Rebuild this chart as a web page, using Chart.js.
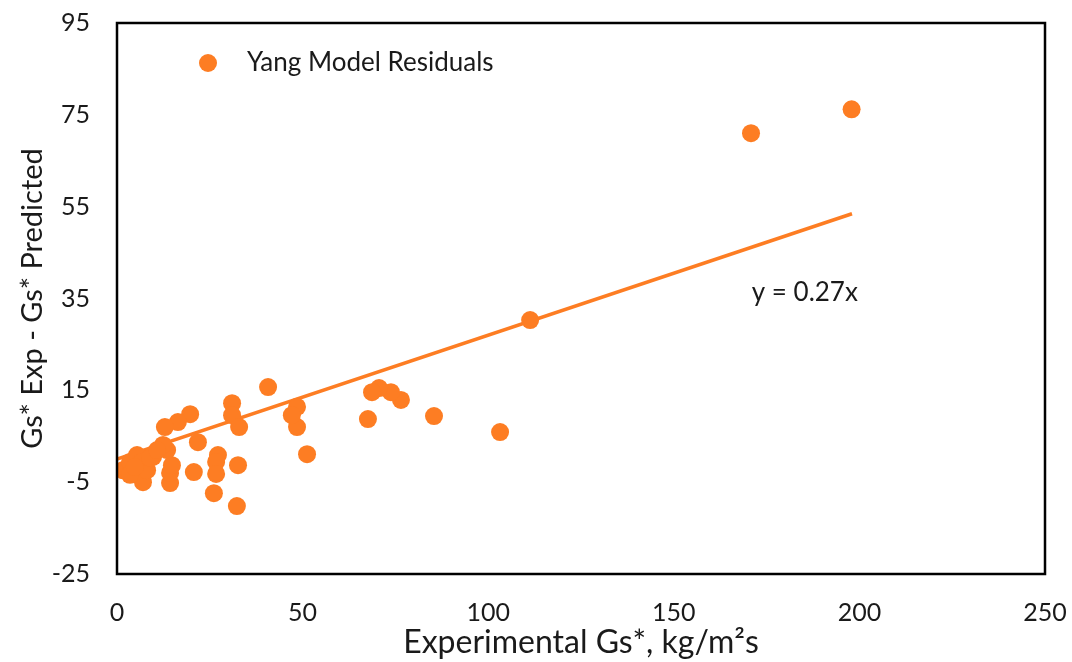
<!DOCTYPE html>
<html>
<head>
<meta charset="utf-8">
<script src="https://cdn.jsdelivr.net/npm/chart.js@4"></script>
<style>
  html, body { margin: 0; padding: 0; background: #fff; }
  #wrap { width: 1072px; height: 662px; }
</style>
</head>
<body>
<div id="wrap"><canvas id="chart"></canvas></div>
<script>
// residual points
const expGs = [170.8, 197.9, 111.3, 103.2, 85.4, 76.5, 73.8, 70.6, 68.7, 67.6,
  51.2, 48.5, 48.5, 47.1, 40.7, 31.0, 31.0, 32.9, 19.7, 16.4,
  12.9, 21.8, 27.2, 26.7, 26.7, 32.6, 20.7, 26.1, 32.3, 14.3,
  14.3, 14.8, 13.5, 12.4, 7.0, 1.6, 3.5, 5.4, 6.7, 8.1,
  9.7, 3.5, 4.8, 8.9, 10.8];
const residuals = [71.0, 76.2, 30.3, 5.9, 9.4, 12.9, 14.6, 15.5, 14.6, 8.75,
  1.1, 7.0, 11.4, 9.6, 15.7, 12.2, 9.6, 7.0, 9.8, 8.1,
  7.0, 3.7, 0.9, -0.6, -3.2, -1.3, -2.8, -7.4, -10.2, -5.2,
  -3.0, -1.3, 2.0, 3.1, -5.0, -2.4, -0.6, 0.9, -0.6, -2.4,
  0.5, -3.4, -1.7, 0.3, 2.0];

// trendline y = 0.27x, drawn from 0 to ~198
const trendX = [0, 198];
const trendY = [0, 53.46];

const xTicks = [0, 50, 100, 150, 200, 250];
const yTicks = [-25, -5, 15, 35, 55, 75, 95];

const seriesName = 'Yang Model Residuals';
const trendLabel = 'y = 0.27x';

const ORANGE = '#FD7D23';
const TEXT = '#1a1a1a';
const FONT = 'Lato, "Open Sans", sans-serif';

const points = expGs.map((x, i) => ({ x, y: residuals[i] }));
const trend = trendX.map((x, i) => ({ x, y: trendY[i] }));

const framePlugin = {
  id: 'frame',
  afterDraw(chart){
    const { ctx, chartArea: a } = chart;
    ctx.save();
    ctx.strokeStyle = '#000';
    ctx.lineWidth = 2.5;
    ctx.strokeRect(a.left, a.top, a.right - a.left, a.bottom - a.top);

    // legend inside plot
    ctx.fillStyle = ORANGE;
    ctx.beginPath();
    ctx.arc(208, 63, 9, 0, Math.PI * 2);
    ctx.fill();
    ctx.fillStyle = TEXT;
    ctx.font = '26px ' + FONT;
    ctx.textBaseline = 'middle';
    ctx.textAlign = 'left';
    ctx.fillText(seriesName, 247, 63);

    // trendline equation
    const sx = chart.scales.x, sy = chart.scales.y;
    ctx.textAlign = 'center';
    ctx.fillText(trendLabel, sx.getPixelForValue(185.3), sy.getPixelForValue(36.2));
    ctx.restore();
  }
};

new Chart(document.getElementById('chart'), {
  data: {
    datasets: [
      {
        type: 'line',
        label: 'trend',
        data: trend,
        borderColor: ORANGE,
        borderWidth: 3.5,
        pointRadius: 0,
        fill: false,
        order: 2
      },
      {
        type: 'scatter',
        label: seriesName,
        data: points,
        backgroundColor: ORANGE,
        borderColor: ORANGE,
        borderWidth: 0,
        pointRadius: 9,
        order: 1
      }
    ]
  },
  options: {
    responsive: true,
    maintainAspectRatio: false,
    animation: false,
    layout: { padding: { top: 23, right: 27, bottom: 0, left: 0 } },
    plugins: { legend: { display: false }, tooltip: { enabled: false } },
    scales: {
      x: {
        type: 'linear',
        min: 0, max: 250,
        afterBuildTicks: s => { s.ticks = xTicks.map(v => ({ value: v })); },
        afterFit: s => { s.height = 88; s.paddingLeft = 0; s.paddingRight = 0; },
        grid: { display: false, drawTicks: false },
        border: { display: false },
        ticks: { autoSkip: false, maxRotation: 0, padding: 24, color: TEXT, font: { family: FONT, size: 25 } },
        title: {
          display: true,
          text: 'Experimental Gs*, kg/m\u00B2s',
          color: TEXT,
          font: { family: FONT, size: 32 },
          padding: { top: 0, bottom: 0 }
        }
      },
      y: {
        type: 'linear',
        min: -25, max: 95,
        afterBuildTicks: s => { s.ticks = yTicks.map(v => ({ value: v })); },
        afterFit: s => { s.width = 117; s.paddingTop = 0; s.paddingBottom = 0; },
        grid: { display: false, drawTicks: false },
        border: { display: false },
        ticks: { autoSkip: false, padding: 27, color: TEXT, font: { family: FONT, size: 25 } },
        title: {
          display: true,
          text: 'Gs* Exp - Gs* Predicted',
          color: TEXT,
          font: { family: FONT, size: 29 },
          padding: { top: 15, bottom: 0 }
        }
      }
    }
  },
  plugins: [framePlugin]
});
</script>
</body>
</html>
